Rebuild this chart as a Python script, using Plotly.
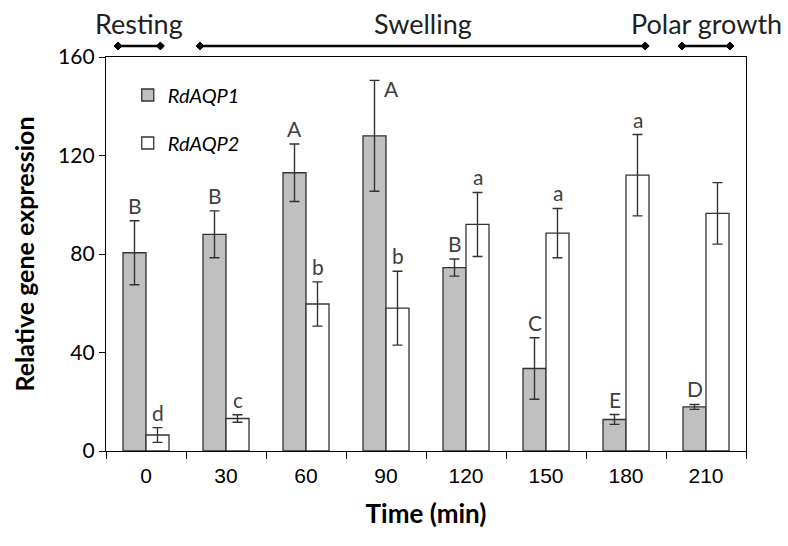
import plotly.graph_objects as go

# ---- data ----
times = ["0", "30", "60", "90", "120", "150", "180", "210"]
aqp1 = [80.5, 88, 113, 128, 74.5, 33.5, 12.8, 17.9]
aqp1_err = [13, 9.5, 11.7, 22.5, 3.5, 12.5, 2, 1]
aqp2 = [6.5, 13.2, 59.7, 58, 92, 88.5, 112, 96.5]
aqp2_err = [3, 1.5, 9, 15, 13, 10, 16.5, 12.5]
aqp1_letters = ["B", "B", "A", "A", "B", "C", "E", "D"]
aqp2_letters = ["d", "c", "b", "b", "a", "a", "a", ""]
phases = ["Resting", "Swelling", "Polar growth"]
phase_start = [-0.35, 0.675, 6.7]   # in category-index units
phase_end = [0.18, 6.24, 7.3]

FONT = "Lato"
DARK = "#333333"

fig = go.Figure()
fig.add_trace(go.Bar(
    x=times, y=aqp1, name="RdAQP1", legendgroup="g1",
    marker=dict(color="#c0c0c0", line=dict(color=DARK, width=1.3)),
    error_y=dict(type="data", array=aqp1_err, color=DARK, thickness=1.4, width=5),
))
fig.add_trace(go.Bar(
    x=times, y=aqp2, name="RdAQP2", legendgroup="g2",
    marker=dict(color="white", line=dict(color=DARK, width=1.3)),
    error_y=dict(type="data", array=aqp2_err, color=DARK, thickness=1.4, width=5),
))

annotations = []
half = 11.5
for i, t in enumerate(times):
    if aqp1_letters[i]:
        a = dict(x=i, y=aqp1[i] + aqp1_err[i], text=aqp1_letters[i], showarrow=False,
                 xref="x", yref="y", xshift=-half, yanchor="bottom", yshift=1,
                 font=dict(family=FONT, size=21, color="#404040"))
        if t == "90":
            a.update(xshift=-half + 17, yanchor="top", yshift=6)
        annotations.append(a)
    if aqp2_letters[i]:
        annotations.append(dict(x=i, y=aqp2[i] + aqp2_err[i], text=aqp2_letters[i], showarrow=False,
                                xref="x", yref="y", xshift=half, yanchor="bottom", yshift=1,
                                font=dict(family=FONT, size=21, color="#404040")))

shapes = []
ARROW_Y = 1.028
for name, s, e in zip(phases, phase_start, phase_end):
    shapes.append(dict(type="line", xref="x", yref="paper", x0=s, x1=e, y0=ARROW_Y, y1=ARROW_Y,
                       line=dict(color="black", width=2.5)))
    for xe in (s, e):
        shapes.append(dict(type="path", xref="x", yref="paper", xsizemode="pixel", ysizemode="pixel",
                           xanchor=xe, yanchor=ARROW_Y, path="M-4,0 L0,4 L4,0 L0,-4 Z",
                           fillcolor="black", line=dict(color="black", width=1)))
    annotations.append(dict(x=(s + e) / 2, y=ARROW_Y, xref="x", yref="paper", text=name,
                            showarrow=False, yanchor="bottom", yshift=4,
                            font=dict(family=FONT, size=27, color="#222222")))

fig.update_layout(
    width=788, height=546,
    margin=dict(l=106, r=42, t=57, b=95),
    paper_bgcolor="white", plot_bgcolor="white",
    barmode="group", bargap=0.425, bargroupgap=0,
    showlegend=True,
    legend=dict(x=0.034, y=0.953, xanchor="left", yanchor="top",
                bgcolor="rgba(0,0,0,0)", tracegroupgap=19,
                font=dict(family=FONT, size=20, color="black", style="italic")),
    annotations=annotations, shapes=shapes,
    xaxis=dict(
        type="category", range=[-0.5, len(times) - 0.5],
        tickson="boundaries", ticks="outside", ticklen=7, tickcolor="black",
        ticklabelstandoff=6,
        showline=True, linecolor="black", linewidth=1.3, mirror=True, showgrid=False,
        tickfont=dict(family="Liberation Sans", size=21, color="black"),
        title=dict(text="<b>Time (min)</b>", font=dict(family=FONT, size=26, color="black"), standoff=18),
    ),
    yaxis=dict(
        range=[0, 160], tickvals=[0, 40, 80, 120, 160], ticks="outside", ticklen=6, tickcolor="black",
        showline=True, linecolor="black", linewidth=1.3, mirror=True, showgrid=False, zeroline=False,
        tickfont=dict(family=FONT, size=21, color="black"),
        title=dict(text="<b>Relative gene expression</b>", font=dict(family=FONT, size=25, color="black"), standoff=16),
    ),
)

fig.write_html("out.html")
